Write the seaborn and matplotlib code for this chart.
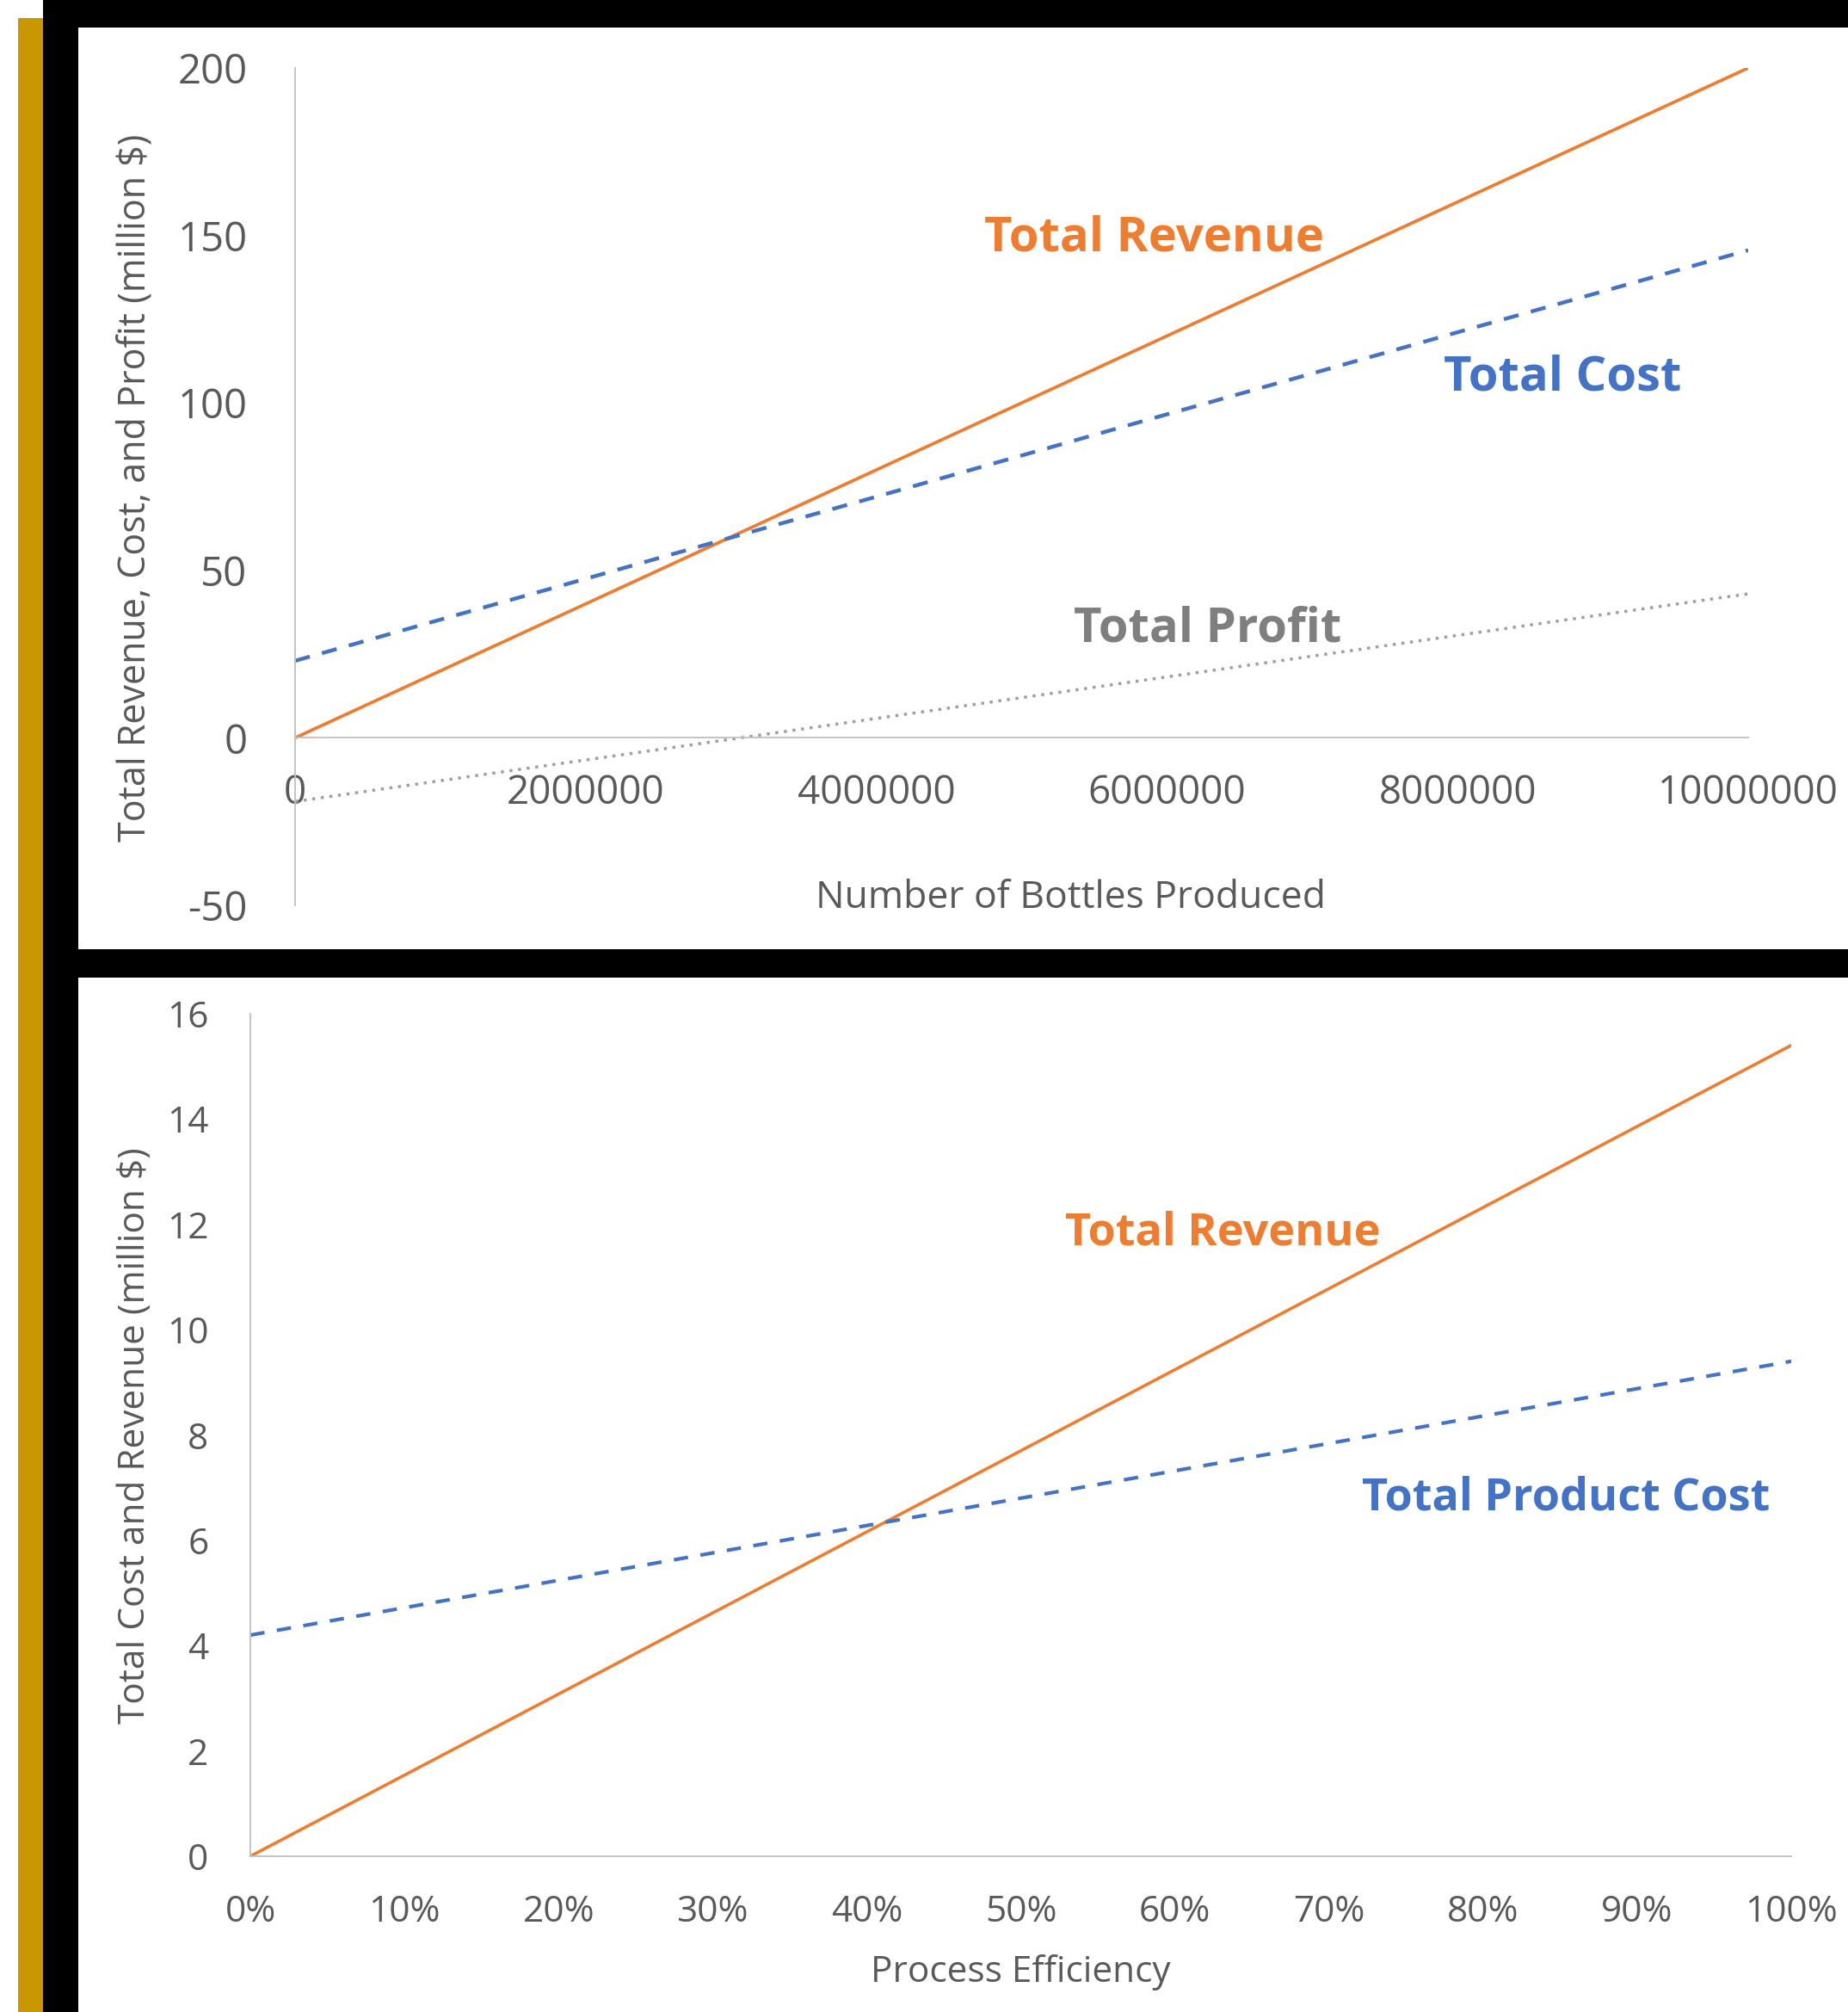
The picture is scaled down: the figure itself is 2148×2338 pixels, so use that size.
import matplotlib
matplotlib.use('Agg')
import matplotlib.pyplot as plt
from matplotlib.patches import Rectangle
import seaborn as sns

# top chart: bottles produced vs. money (million $)
bottles = [0, 1000000, 2000000, 3000000, 4000000, 5000000,
           6000000, 7000000, 8000000, 9000000, 10000000]
revenue = [0, 20, 40, 60, 80, 100, 120, 140, 160, 180, 200]
cost = [23.0, 35.3, 47.5, 59.8, 72.0, 84.3, 96.6, 108.8, 121.1, 133.3, 145.6]
profit = [-19.0, -12.8, -6.6, -0.4, 5.8, 12.0, 18.2, 24.4, 30.6, 36.8, 43.0]
bottle_ticks = [0, 2000000, 4000000, 6000000, 8000000, 10000000]
money_ticks = [-50, 0, 50, 100, 150, 200]

# bottom chart: process efficiency vs. money (million $)
efficiency = [0.0, 0.1, 0.2, 0.3, 0.4, 0.5, 0.6, 0.7, 0.8, 0.9, 1.0]
eff_revenue = [0.0, 1.54, 3.08, 4.62, 6.16, 7.70, 9.24, 10.78, 12.32, 13.86, 15.4]
eff_cost = [4.2, 4.72, 5.24, 5.76, 6.28, 6.80, 7.32, 7.84, 8.36, 8.88, 9.4]
eff_ticks = [0.0, 0.1, 0.2, 0.3, 0.4, 0.5, 0.6, 0.7, 0.8, 0.9, 1.0]
small_ticks = [0, 2, 4, 6, 8, 10, 12, 14, 16]

ORANGE = '#ED7D31'
BLUE = '#4472C4'
GRAY = '#A0A0A0'
TXT = '#595959'
AXLINE = '#BFBFBF'

sns.set_theme(style='white')
plt.rcParams['font.family'] = ['Open Sans', 'DejaVu Sans']

W, H = 2148, 2338
fig = plt.figure(figsize=(W / 100, H / 100), dpi=100, facecolor='white')


def box(x0, y0, x1, y1, color):
    # pixel box (from top-left) -> figure fraction rectangle
    r = Rectangle((x0 / W, 1 - y1 / H), (x1 - x0) / W, (y1 - y0) / H,
                  transform=fig.transFigure, facecolor=color,
                  edgecolor='none', zorder=-10)
    fig.add_artist(r)


# slide background: gold stripe, black frame, white panels
box(21, 21, 50, H, '#C99700')
box(50, 0, W, H, 'black')
box(91, 32, W, 1103, 'white')
box(91, 1136, W, H, 'white')

# ---------------- top chart ----------------
ax = fig.add_axes([343 / W, 1 - 1052 / H, (2032 - 343) / W, (1052 - 79) / H])
ax.set_facecolor('none')
sns.lineplot(x=bottles, y=revenue, ax=ax, color=ORANGE, linewidth=2.7)
sns.lineplot(x=bottles, y=cost, ax=ax, color=BLUE, linewidth=3.2,
             linestyle=(0, (4.0, 3.3)))
sns.lineplot(x=bottles, y=profit, ax=ax, color=GRAY, linewidth=2.5,
             linestyle=(0, (1, 1.9)))
ax.set_xlim(0, 10000000)
ax.set_ylim(-50, 200)
ax.set_xticks(bottle_ticks)
ax.set_xticklabels([str(v) for v in bottle_ticks])
ax.set_yticks(money_ticks)
ax.set_yticklabels([str(v) for v in money_ticks])
ax.tick_params(axis='x', length=0, pad=30, labelsize=33, labelcolor=TXT)
ax.tick_params(axis='y', length=0, pad=40, labelsize=34, labelcolor=TXT)
for s in ['top', 'right']:
    ax.spines[s].set_visible(False)
ax.spines['bottom'].set_position(('data', 0))
for s in ['left', 'bottom']:
    ax.spines[s].set_color(AXLINE)
    ax.spines[s].set_linewidth(1.3)
ax.set_xlabel('Number of Bottles Produced', fontsize=32, color=TXT)
ax.xaxis.label.set_va('center')
ax.xaxis.set_label_coords(0.534, 0.008)
ax.set_ylabel('Total Revenue, Cost, and Profit (million $)', fontsize=31, color=TXT)
ax.yaxis.label.set_va('center')
ax.yaxis.set_label_coords(-0.110, 0.499)

ax.text(5910000, 149.2, 'Total Revenue', color=ORANGE, fontsize=40.5,
        fontweight='bold', ha='center', va='center')
ax.text(8720000, 107.6, 'Total Cost', color=BLUE, fontsize=40.5,
        fontweight='bold', ha='center', va='center')
ax.text(6280000, 32.5, 'Total Profit', color='#7F7F7F', fontsize=40.5,
        fontweight='bold', ha='center', va='center')

# ---------------- bottom chart ----------------
ax2 = fig.add_axes([291 / W, 1 - 2157 / H, (2082 - 291) / W, (2157 - 1178) / H])
ax2.set_facecolor('none')
sns.lineplot(x=efficiency, y=eff_revenue, ax=ax2, color=ORANGE, linewidth=2.6)
sns.lineplot(x=efficiency, y=eff_cost, ax=ax2, color=BLUE, linewidth=3.0,
             linestyle=(0, (4.0, 3.5)))
ax2.set_xlim(0, 1)
ax2.set_ylim(0, 16)
ax2.set_xticks(eff_ticks)
ax2.set_xticklabels([f'{round(v * 100)}%' for v in eff_ticks])
ax2.set_yticks(small_ticks)
ax2.set_yticklabels([str(v) for v in small_ticks])
ax2.tick_params(axis='x', length=0, pad=32, labelsize=30.5, labelcolor=TXT)
ax2.tick_params(axis='y', length=0, pad=35, labelsize=30.5, labelcolor=TXT)
for s in ['top', 'right']:
    ax2.spines[s].set_visible(False)
for s in ['left', 'bottom']:
    ax2.spines[s].set_color(AXLINE)
    ax2.spines[s].set_linewidth(1.3)
ax2.set_xlabel('Process Efficiency', fontsize=30.5, color=TXT)
ax2.xaxis.label.set_va('center')
ax2.xaxis.set_label_coords(0.5, -0.138)
ax2.set_ylabel('Total Cost and Revenue (million $)', fontsize=30.5, color=TXT)
ax2.yaxis.label.set_va('center')
ax2.yaxis.set_label_coords(-0.075, 0.499)

ax2.text(0.631, 11.84, 'Total Revenue', color=ORANGE, fontsize=37.5,
         fontweight='bold', ha='center', va='center')
ax2.text(0.854, 6.80, 'Total Product Cost', color=BLUE, fontsize=37.5,
         fontweight='bold', ha='center', va='center')

fig.savefig('out.png', dpi=100, facecolor='white')
